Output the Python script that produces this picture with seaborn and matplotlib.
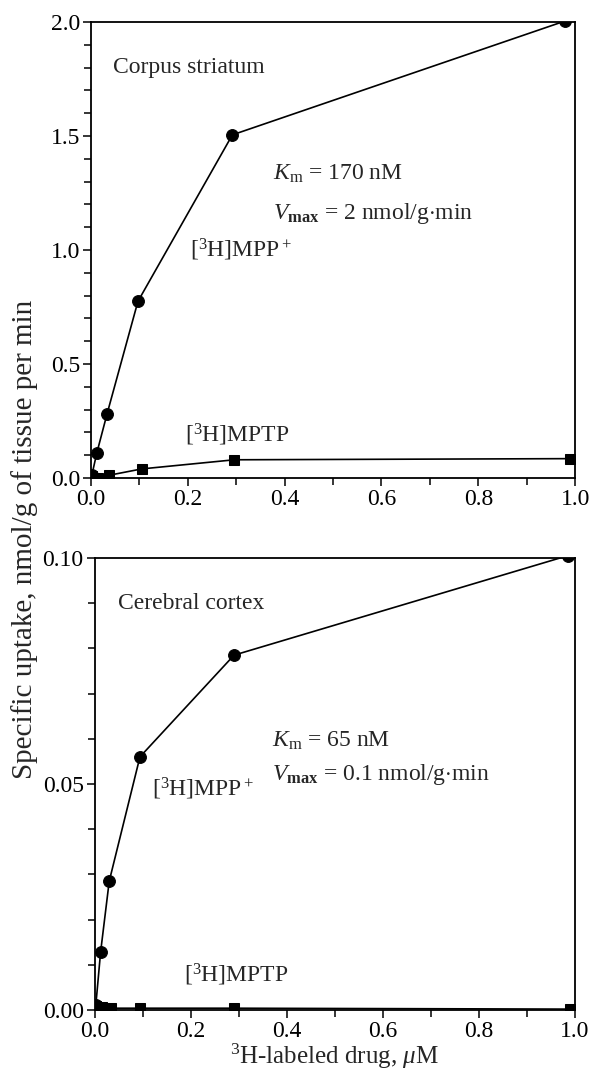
import numpy as np
import pandas as pd
import matplotlib
matplotlib.use("Agg")
import matplotlib.pyplot as plt
from matplotlib.ticker import MultipleLocator, FormatStrFormatter
import seaborn as sns

# ---- data ----
top_mpp_x = [0.002, 0.012, 0.033, 0.097, 0.292, 0.98]
top_mpp_y = [0.015, 0.11, 0.28, 0.775, 1.505, 2.005]
top_mptp_x = [0.002, 0.014, 0.037, 0.105, 0.296, 0.99]
top_mptp_y = [0.01, 0.0, 0.012, 0.04, 0.08, 0.085]

bot_mpp_x = [0.002, 0.012, 0.03, 0.094, 0.29, 0.985]
bot_mpp_y = [0.001, 0.0128, 0.0285, 0.056, 0.0785, 0.1005]
bot_mptp_x = [0.002, 0.014, 0.033, 0.094, 0.29, 0.99]
bot_mptp_y = [0.0008, 0.0006, 0.0004, 0.0004, 0.0004, 0.0002]

top_yticks = [0.0, 0.5, 1.0, 1.5, 2.0]
bot_yticks = [0.00, 0.05, 0.10]
xticks = [0.0, 0.2, 0.4, 0.6, 0.8, 1.0]

sns.set_theme(style="ticks")
plt.rcParams['font.family'] = ['Liberation Serif', 'DejaVu Serif']
plt.rcParams['mathtext.fontset'] = 'custom'
plt.rcParams['mathtext.rm'] = 'Liberation Serif'
plt.rcParams['mathtext.it'] = 'Liberation Serif:italic'
plt.rcParams['mathtext.bf'] = 'Liberation Serif:bold'

fig = plt.figure(figsize=(5.89, 10.73), dpi=100)
ax1 = fig.add_axes([0.1545, 0.5545, 0.822, 0.425])
ax2 = fig.add_axes([0.161, 0.0587, 0.815, 0.4213])

FS = 17

def draw(ax, mx, my, qx, qy):
    sns.lineplot(x=mx, y=my, ax=ax, color='black', linewidth=1.2, marker='o',
                 markersize=8.5, markeredgecolor='black', sort=False, estimator=None)
    sns.lineplot(x=qx, y=qy, ax=ax, color='black', linewidth=1.2, marker='s',
                 markersize=7.5, markeredgecolor='black', sort=False, estimator=None)
    for s in ax.spines.values():
        s.set_visible(True)
        s.set_linewidth(1.3)
        s.set_color('black')
    ax.set_xlim(0, 1.0)
    ax.set_xticks(xticks)
    ax.xaxis.set_minor_locator(MultipleLocator(0.1))
    ax.xaxis.set_major_formatter(FormatStrFormatter('%.1f'))
    ax.tick_params(which='both', direction='out', colors='black', labelsize=FS,
                   top=False, right=False, width=1.1)
    ax.tick_params(which='major', length=6, pad=2)
    ax.tick_params(which='minor', length=5)
    ax.set_facecolor('white')

draw(ax1, top_mpp_x, top_mpp_y, top_mptp_x, top_mptp_y)
ax1.set_ylim(0, 2.0)
ax1.set_yticks(top_yticks)
ax1.yaxis.set_minor_locator(MultipleLocator(0.1))
ax1.yaxis.set_major_formatter(FormatStrFormatter('%.1f'))

draw(ax2, bot_mpp_x, bot_mpp_y, bot_mptp_x, bot_mptp_y)
ax2.set_ylim(0, 0.10)
ax2.set_yticks(bot_yticks)
ax2.yaxis.set_minor_locator(MultipleLocator(0.01))
ax2.yaxis.set_major_formatter(FormatStrFormatter('%.2f'))

# annotations top
ax1.text(0.045, 1.80, 'Corpus striatum', fontsize=FS, va='center', ha='left')
ax1.text(0.375, 1.335, r'$K_\mathrm{m}$ = 170 nM', fontsize=FS, va='center', ha='left')
ax1.text(0.375, 1.16, r'$V_\mathbf{max}$ = 2 nmol/g$\cdot$min', fontsize=FS, va='center', ha='left')
ax1.text(0.205, 1.0, r'[$^3$H]MPP$^+$', fontsize=FS, va='center', ha='left')
ax1.text(0.195, 0.19, r'[$^3$H]MPTP', fontsize=FS, va='center', ha='left')

# annotations bottom
ax2.text(0.048, 0.090, 'Cerebral cortex', fontsize=FS, va='center', ha='left')
ax2.text(0.37, 0.0595, r'$K_\mathrm{m}$ = 65 nM', fontsize=FS, va='center', ha='left')
ax2.text(0.37, 0.052, r'$V_\mathbf{max}$ = 0.1 nmol/g$\cdot$min', fontsize=FS, va='center', ha='left')
ax2.text(0.12, 0.049, r'[$^3$H]MPP$^+$', fontsize=FS, va='center', ha='left')
ax2.text(0.185, 0.0078, r'[$^3$H]MPTP', fontsize=FS, va='center', ha='left')

fig.text(0.568, 1 - 1064 / 1073, r'$^3$H-labeled drug, $\mu$M', fontsize=18,
         va='baseline', ha='center')
fig.text(0.042, 0.497, 'Specific uptake, nmol/g of tissue per min', rotation=90,
         fontsize=21, va='center', ha='center')

fig.savefig('out.png', dpi=100, facecolor='white')
